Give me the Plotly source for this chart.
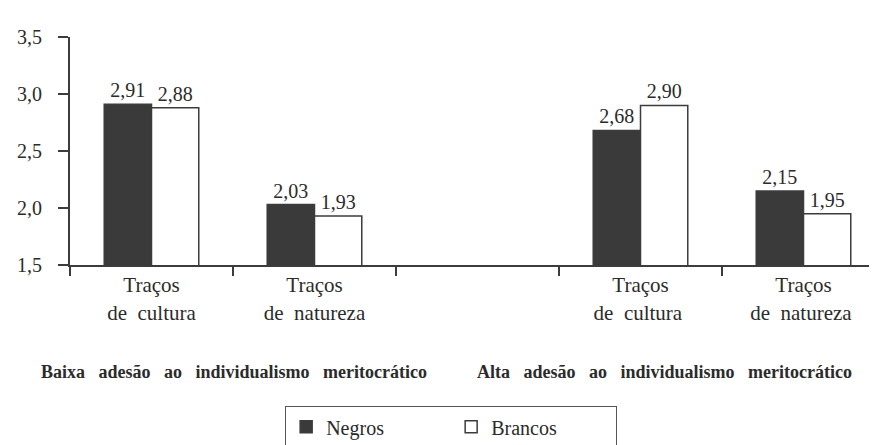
import plotly.graph_objects as go

# ---- data ----
group_labels = ["Baixa adesão ao individualismo meritocrático",
                "Alta adesão ao individualismo meritocrático"]
trait_labels = ["Traços<br>de\u00a0\u00a0cultura", "Traços<br>de\u00a0\u00a0natureza"]
series_names = ["Negros", "Brancos"]
negros_baixa = [2.91, 2.03]
brancos_baixa = [2.88, 1.93]
negros_alta = [2.68, 2.15]
brancos_alta = [2.90, 1.95]
y_ticks = [1.5, 2.0, 2.5, 3.0, 3.5]

# categories: group 1 traits, spacer, group 2 traits (trailing space keeps them distinct)
spacer = " "
categories = trait_labels + [spacer] + [t + " " for t in trait_labels]
negros = negros_baixa + [None] + negros_alta
brancos = brancos_baixa + [None] + brancos_alta

FONT = "serif"
TXT = "#2b2b2b"
DARK = "#3a3a3a"
LINE = "#3c3c3c"

fig = go.Figure()
fig.add_trace(go.Bar(
    x=categories, y=negros, name=series_names[0],
    marker=dict(color=DARK, line=dict(color=LINE, width=1.5)),
    texttemplate="%{y:.2f}", textposition="outside",
    textfont=dict(family=FONT, size=20, color=TXT), cliponaxis=False,
))
fig.add_trace(go.Bar(
    x=categories, y=brancos, name=series_names[1],
    marker=dict(color="white", line=dict(color=LINE, width=1.5)),
    texttemplate="%{y:.2f}", textposition="outside",
    textfont=dict(family=FONT, size=20, color=TXT), cliponaxis=False,
))

x_group_centers = [0.201, 0.730]
for lbl, xc in zip(group_labels, x_group_centers):
    fig.add_annotation(
        text="<b>" + lbl.replace(" ", "\u00a0\u00a0\u00a0") + "</b>",
        xref="paper", yref="paper", x=xc, y=-0.47,
        xanchor="center", yanchor="middle", showarrow=False,
        font=dict(family=FONT, size=18, color=TXT),
    )

fig.update_layout(
    width=877, height=445,
    margin=dict(l=62, r=0, t=29, b=188),
    paper_bgcolor="white", plot_bgcolor="white",
    separators=",.",
    barmode="group", bargap=0.42, bargroupgap=0,
    font=dict(family=FONT, size=20, color=TXT),
    showlegend=True,
    legend=dict(
        orientation="h", x=0.264, xanchor="left", y=-0.62, yanchor="top",
        bordercolor="#555555", borderwidth=1, bgcolor="white",
        font=dict(family=FONT, size=20, color=TXT),
        entrywidth=120, itemclick=False,
    ),
    xaxis=dict(
        type="category", categoryorder="array", categoryarray=categories,
        showline=True, linecolor=LINE, linewidth=2,
        ticks="outside", tickson="boundaries", ticklen=9, tickwidth=1.5, tickcolor=LINE,
        showgrid=False, zeroline=False,
        tickfont=dict(family=FONT, size=21, color=TXT),
    ),
    yaxis=dict(
        range=[1.5, 3.5], tickvals=y_ticks, tickformat=".1f",
        showline=True, linecolor=LINE, linewidth=2,
        ticks="outside", ticklen=10, tickwidth=1.5, tickcolor=LINE,
        showgrid=False, zeroline=False, ticklabelstandoff=12,
        tickfont=dict(family=FONT, size=20, color=TXT),
    ),
)

fig.write_html("out.html")
